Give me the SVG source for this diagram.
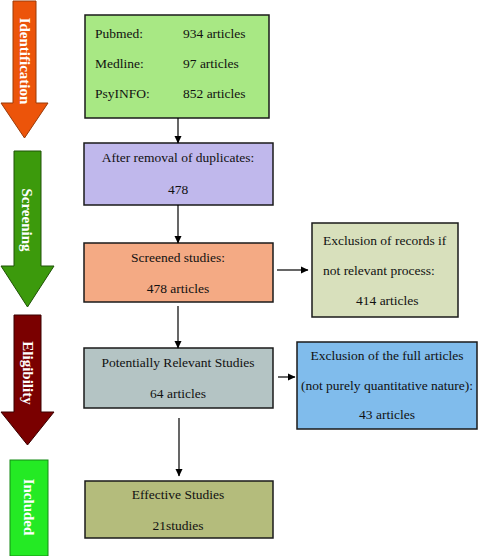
<svg xmlns="http://www.w3.org/2000/svg" width="478" height="556" viewBox="0 0 478 556">
<defs>
<marker id="ah" markerWidth="8" markerHeight="8" refX="7" refY="4" orient="auto" markerUnits="userSpaceOnUse">
<path d="M0,0.5 L7.5,4 L0,7.5 Z" fill="#000"/>
</marker>
<style>
.box{stroke:#1a1a1a;stroke-width:1.5}
.t{font-family:"Liberation Serif","Times New Roman",serif;font-size:13.5px;fill:#111}
.c{text-anchor:middle}
.stage{font-family:"Liberation Serif","Times New Roman",serif;font-size:15px;font-weight:bold;fill:#fff;text-anchor:middle}
.con{stroke:#000;stroke-width:1.2;fill:none;marker-end:url(#ah)}
</style>
</defs>
<rect width="478" height="556" fill="#fff"/>

<g id="stage-identification">
<path d="M13,1 L36,1 L36,103 L48,103 L24.5,138 L1,103 L13,103 Z" fill="#ec540a" stroke="#9a3a08" stroke-width="1"/>
<text class="stage" transform="translate(25,61) rotate(90)" dy="5">Identification</text>
</g>
<g id="stage-screening">
<path d="M14,151 L41,151 L41,266 L54,266 L27.5,307 L1,266 L14,266 Z" fill="#3c9a0c" stroke="#1f5206" stroke-width="1"/>
<text class="stage" transform="translate(27,220) rotate(90)" dy="5">Screening</text>
</g>
<g id="stage-eligibility">
<path d="M14,315 L41,315 L41,412 L54,412 L27.5,445 L1,412 L14,412 Z" fill="#7a0000" stroke="#3a0000" stroke-width="1"/>
<text class="stage" transform="translate(27.5,373) rotate(90)" dy="5" font-size="14">Eligibility</text>
</g>
<g id="stage-included">
<rect x="10" y="460" width="38" height="96" fill="#24ea24" stroke="#148a14" stroke-width="1"/>
<text class="stage" transform="translate(29,507) rotate(90)" dy="5">Included</text>
</g>

<g id="sources">
<rect class="box" x="85" y="15" width="184" height="103" fill="#a8e884"/>
<text class="t" x="95" y="38">Pubmed:</text>
<text class="t" x="183" y="38">934 articles</text>
<text class="t" x="95" y="68">Medline:</text>
<text class="t" x="183" y="68">97 articles</text>
<text class="t" x="95" y="98">PsyINFO:</text>
<text class="t" x="183" y="98">852 articles</text>
</g>

<g id="duplicates">
<rect class="box" x="84" y="143" width="189" height="62" fill="#c0b8ec"/>
<text class="t c" x="178" y="162">After removal of duplicates:</text>
<text class="t c" x="178" y="194">478</text>
</g>

<g id="screened">
<rect class="box" x="84" y="243" width="189" height="59" fill="#f4aa84"/>
<text class="t c" x="178" y="262">Screened studies:</text>
<text class="t c" x="178" y="293">478 articles</text>
</g>

<g id="excl-records">
<rect class="box" x="312" y="223" width="146" height="94" fill="#d8e0bc"/>
<text class="t" x="323" y="245">Exclusion of records if</text>
<text class="t" x="323" y="275">not relevant process:</text>
<text class="t" x="356" y="305">414 articles</text>
</g>

<g id="relevant">
<rect class="box" x="84" y="348" width="189" height="60" fill="#b4c4c4"/>
<text class="t c" x="178" y="367">Potentially Relevant Studies</text>
<text class="t c" x="178" y="398">64 articles</text>
</g>

<g id="excl-full">
<rect class="box" x="297" y="342" width="180" height="87" fill="#80bcec"/>
<text class="t c" x="387" y="360">Exclusion of the full articles</text>
<text class="t c" x="387" y="390" font-size="11.5">(not purely quantitative nature):</text>
<text class="t c" x="387" y="419">43 articles</text>
</g>

<g id="effective">
<rect class="box" x="85" y="481" width="188" height="57" fill="#b4bc7c"/>
<text class="t c" x="178" y="499">Effective Studies</text>
<text class="t c" x="178" y="530">21studies</text>
</g>

<g id="connectors">
<line class="con" x1="178" y1="118" x2="178" y2="143"/>
<line class="con" x1="178" y1="205" x2="178" y2="243"/>
<line class="con" x1="178" y1="306" x2="178" y2="348"/>
<line class="con" x1="277" y1="270" x2="308" y2="270"/>
<line class="con" x1="278" y1="377" x2="295" y2="377"/>
<line class="con" x1="179" y1="418" x2="179" y2="476"/>
</g>
</svg>
